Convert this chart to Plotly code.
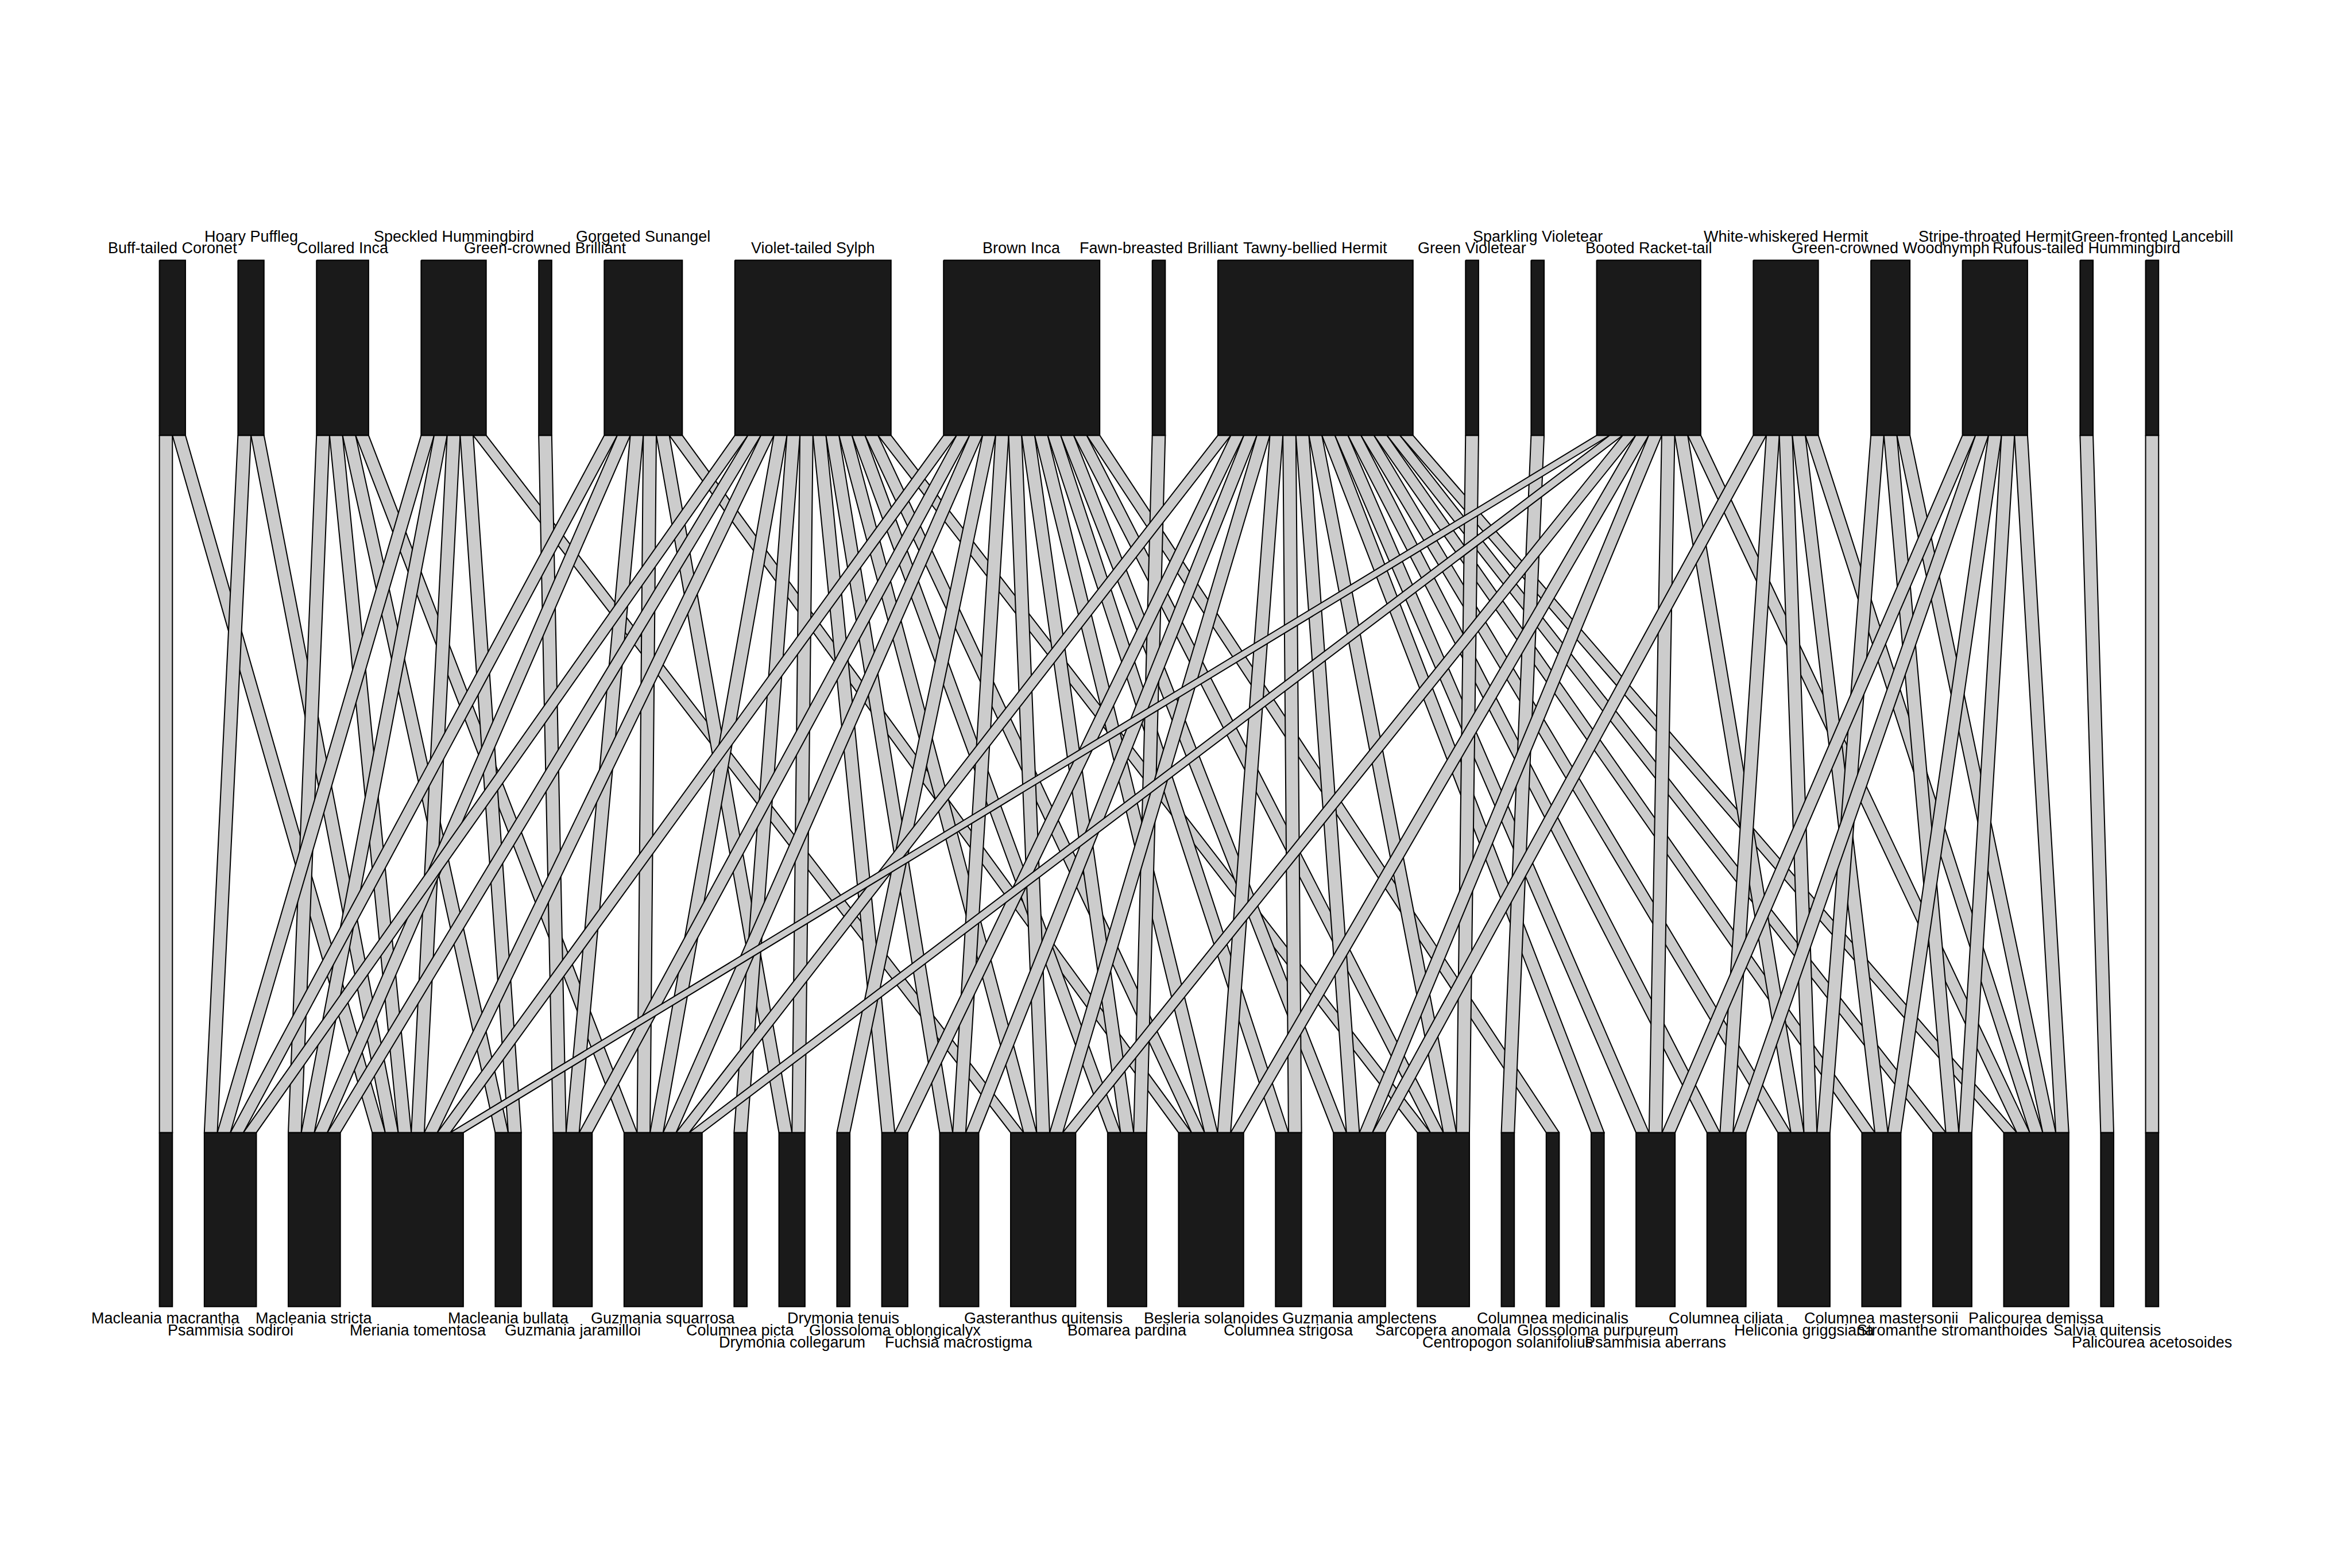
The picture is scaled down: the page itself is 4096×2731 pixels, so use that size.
import plotly.graph_objects as go

# ---------------- data ----------------
birds = ["Buff-tailed Coronet", "Hoary Puffleg", "Collared Inca", "Speckled Hummingbird",
         "Green-crowned Brilliant", "Gorgeted Sunangel", "Violet-tailed Sylph", "Brown Inca",
         "Fawn-breasted Brilliant", "Tawny-bellied Hermit", "Green Violetear", "Sparkling Violetear",
         "Booted Racket-tail", "White-whiskered Hermit", "Green-crowned Woodnymph",
         "Stripe-throated Hermit", "Rufous-tailed Hummingbird", "Green-fronted Lancebill"]

plants = ["Macleania macrantha", "Psammisia sodiroi", "Macleania stricta", "Meriania tomentosa",
          "Macleania bullata", "Guzmania jaramilloi", "Guzmania squarrosa", "Columnea picta",
          "Drymonia collegarum", "Drymonia tenuis", "Glossoloma oblongicalyx", "Fuchsia macrostigma",
          "Gasteranthus quitensis", "Bomarea pardina", "Besleria solanoides", "Columnea strigosa",
          "Guzmania amplectens", "Sarcopera anomala", "Centropogon solanifolius", "Columnea medicinalis",
          "Glossoloma purpureum", "Psammisia aberrans", "Columnea ciliata", "Heliconia griggsiana",
          "Columnea mastersonii", "Stromanthe stromanthoides", "Palicourea demissa", "Salvia quitensis",
          "Palicourea acetosoides"]

# plants visited by each bird (1-based plant numbers, one interaction each)
visits = [
    [1, 4],
    [2, 4],
    [3, 4, 5, 7],
    [2, 3, 4, 5, 13],
    [6],
    [2, 3, 6, 7, 9, 15],
    [2, 3, 4, 7, 8, 9, 11, 12, 13, 14, 15, 18],
    [4, 6, 7, 10, 12, 13, 14, 15, 16, 17, 18, 20],
    [14],
    [7, 11, 12, 13, 15, 16, 17, 18, 21, 22, 23, 24, 25, 26, 27],
    [18],
    [19],
    [4, 7, 13, 15, 17, 22, 24, 27],
    [17, 23, 24, 25, 27],
    [24, 26, 27],
    [22, 23, 25, 26, 27],
    [28],
    [29],
]

# label row (stagger level) for each name
bird_rows = [0, 1, 0, 1, 0, 1, 0, 0, 0, 0, 0, 1, 0, 1, 0, 1, 0, 1]
plant_rows = [0, 1, 0, 1, 0, 1, 0, 1, 2, 0, 1, 2, 0, 1, 0, 1, 0, 1, 2, 0, 1, 2, 0, 1, 0, 1, 0, 1, 2]

# ---------------- geometry (reference pixel space 4500 x 3000) ----------------
X0, X1 = 305.0, 4130.0
U = 24.9
TOP_Y0, TOP_Y1 = 498.0, 833.0
BOT_Y0, BOT_Y1 = 2167.0, 2500.0
BOX_FILL = "#1a1a1a"
LINK_FILL = "#cccccc"

nt, nb = len(birds), len(plants)
deg_t = [len(v) for v in visits]
deg_b = [0] * nb
for v in visits:
    for p in v:
        deg_b[p - 1] += 1
total = sum(deg_t)
gap_t = (X1 - X0 - total * U) / (nt - 1)
gap_b = (X1 - X0 - total * U) / (nb - 1)

top_left = []
x = X0
for d in deg_t:
    top_left.append(x)
    x += d * U + gap_t
bot_left = []
x = X0
for d in deg_b:
    bot_left.append(x)
    x += d * U + gap_b

bot_sources = [[] for _ in range(nb)]
for i, v in enumerate(visits):
    for p in v:
        bot_sources[p - 1].append(i)

fig = go.Figure()

for i, v in enumerate(visits):
    for k, p in enumerate(sorted(v)):
        j = p - 1
        r = sorted(bot_sources[j]).index(i)
        hx0 = top_left[i] + k * U
        lx0 = bot_left[j] + r * U
        fig.add_trace(go.Scatter(
            x=[hx0, hx0 + U, lx0 + U, lx0, hx0],
            y=[TOP_Y1, TOP_Y1, BOT_Y0, BOT_Y0, TOP_Y1],
            mode="lines", fill="toself", fillcolor=LINK_FILL,
            line=dict(color="black", width=2), hoverinfo="skip", showlegend=False))

for i in range(nt):
    xa, xb = top_left[i], top_left[i] + deg_t[i] * U
    fig.add_trace(go.Scatter(
        x=[xa, xb, xb, xa, xa], y=[TOP_Y0, TOP_Y0, TOP_Y1, TOP_Y1, TOP_Y0],
        mode="lines", fill="toself", fillcolor=BOX_FILL,
        line=dict(color="black", width=2), hoverinfo="skip", showlegend=False))
for j in range(nb):
    xa, xb = bot_left[j], bot_left[j] + deg_b[j] * U
    fig.add_trace(go.Scatter(
        x=[xa, xb, xb, xa, xa], y=[BOT_Y0, BOT_Y0, BOT_Y1, BOT_Y1, BOT_Y0],
        mode="lines", fill="toself", fillcolor=BOX_FILL,
        line=dict(color="black", width=2), hoverinfo="skip", showlegend=False))

FONT = dict(family="Liberation Sans, Arial, sans-serif", size=27, color="black")
annotations = []
top_row_y = [474.5, 452.5]
bot_row_y = [2522.0, 2545.0, 2568.0]
for i, name in enumerate(birds):
    cx = top_left[i] + deg_t[i] * U / 2
    annotations.append(dict(x=cx, y=top_row_y[bird_rows[i]], xref="x", yref="y", text=name,
                            showarrow=False, xanchor="center", yanchor="middle", font=FONT))
for j, name in enumerate(plants):
    cx = bot_left[j] + deg_b[j] * U / 2
    annotations.append(dict(x=cx, y=bot_row_y[plant_rows[j]], xref="x", yref="y", text=name,
                            showarrow=False, xanchor="center", yanchor="middle", font=FONT))

fig.update_layout(
    width=4096, height=2731,
    margin=dict(l=0, r=0, t=0, b=0, pad=0),
    paper_bgcolor="white", plot_bgcolor="white",
    xaxis=dict(range=[0, 4500], visible=False, fixedrange=True),
    yaxis=dict(range=[3000, 0], visible=False, fixedrange=True),
    annotations=annotations,
    showlegend=False,
)

fig.write_html("out.html", config={"displayModeBar": False})
